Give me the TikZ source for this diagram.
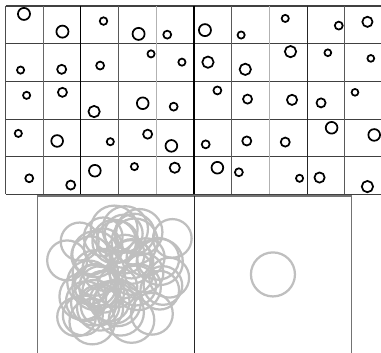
\documentclass[tikz,border=0pt]{standalone}
\usepackage{tikz}

\begin{document}
\begin{tikzpicture}[
    x=1cm, y=-1cm,
    dot/.style={draw=black, line width=1.3pt},
    blob/.style={draw=black!25, line width=1.7pt},
    gridline/.style={line width=0.8pt}
]

\useasboundingbox (-0.146,-0.159) rectangle (9.96,9.178);

% Panel size (one cell blown up)
\def\ps{4.165}

% Grid - horizontal lines
\foreach \r in {0,...,5}
  \draw[gridline, black!75] (0,\r) -- (10,\r);

% Grid - vertical lines
\foreach \c/\col in {0/black!70, 1/black!60, 2/black, 3/black!65, 4/black!30,
                     5/black, 6/black!65, 7/black!30, 8/black!85, 9/black!65, 10/black!65}
  \draw[gridline, \col] (\c,0) -- (\c,5);

% Bottom panels
\draw[gridline, black!55] (0.843,9.3) -- (0.843,5.04) -- (9.18,5.04) -- (9.18,9.3);
\draw[gridline, black!85] (5.008,5.04) -- (5.008,9.3);

% Circles: column / row / x in cell / y in cell / radius
\foreach \c/\r/\x/\y/\rad in {
    1/1/0.49/0.21/0.16,  2/1/0.51/0.68/0.16,  3/1/0.60/0.40/0.10,  4/1/0.53/0.74/0.16,  5/1/0.29/0.76/0.105,
    6/1/0.29/0.64/0.16,  7/1/0.25/0.77/0.095, 8/1/0.42/0.33/0.095, 9/1/0.84/0.52/0.105, 10/1/0.60/0.42/0.135,
    1/2/0.40/0.70/0.095, 2/2/0.49/0.68/0.12,  3/2/0.51/0.58/0.105, 4/2/0.86/0.27/0.095, 5/2/0.68/0.49/0.095,
    6/2/0.37/0.49/0.15,  7/2/0.36/0.68/0.15,  8/2/0.56/0.21/0.15,  9/2/0.55/0.24/0.09,  10/2/0.69/0.39/0.09,
    1/3/0.56/0.37/0.095, 2/3/0.51/0.29/0.12,  3/3/0.35/0.80/0.15,  4/3/0.64/0.58/0.155, 5/3/0.46/0.67/0.105,
    6/3/0.62/0.24/0.105, 7/3/0.42/0.47/0.12,  8/3/0.60/0.49/0.135, 9/3/0.37/0.57/0.12,  10/3/0.27/0.29/0.09,
    1/4/0.34/0.38/0.095, 2/4/0.37/0.58/0.155, 3/4/0.78/0.60/0.095, 4/4/0.77/0.40/0.12,  5/4/0.40/0.71/0.155,
    6/4/0.31/0.67/0.105, 7/4/0.40/0.58/0.12,  8/4/0.42/0.61/0.12,  9/4/0.65/0.23/0.155, 10/4/0.78/0.42/0.155,
    1/5/0.63/0.57/0.105, 2/5/0.73/0.75/0.12,  3/5/0.37/0.37/0.155, 4/5/0.42/0.26/0.095, 5/5/0.49/0.29/0.135,
    6/5/0.62/0.29/0.155, 7/5/0.19/0.41/0.105, 8/5/0.80/0.57/0.095, 9/5/0.33/0.55/0.135, 10/5/0.60/0.79/0.15}
{
  % circle in its own cell
  \draw[dot] ({\c-1+\x},{\r-1+\y}) circle [radius=\rad];
  % same circle overlaid in the left panel (sizes evened out)
  \draw[blob] ({0.843+\ps*\x},{5.04+\ps*\y}) circle [radius={\ps*(0.4*\rad+0.085)}];
}

% Mean circle in the right panel
\draw[blob] (7.094,7.12) circle [radius=0.584];

\end{tikzpicture}
\end{document}
